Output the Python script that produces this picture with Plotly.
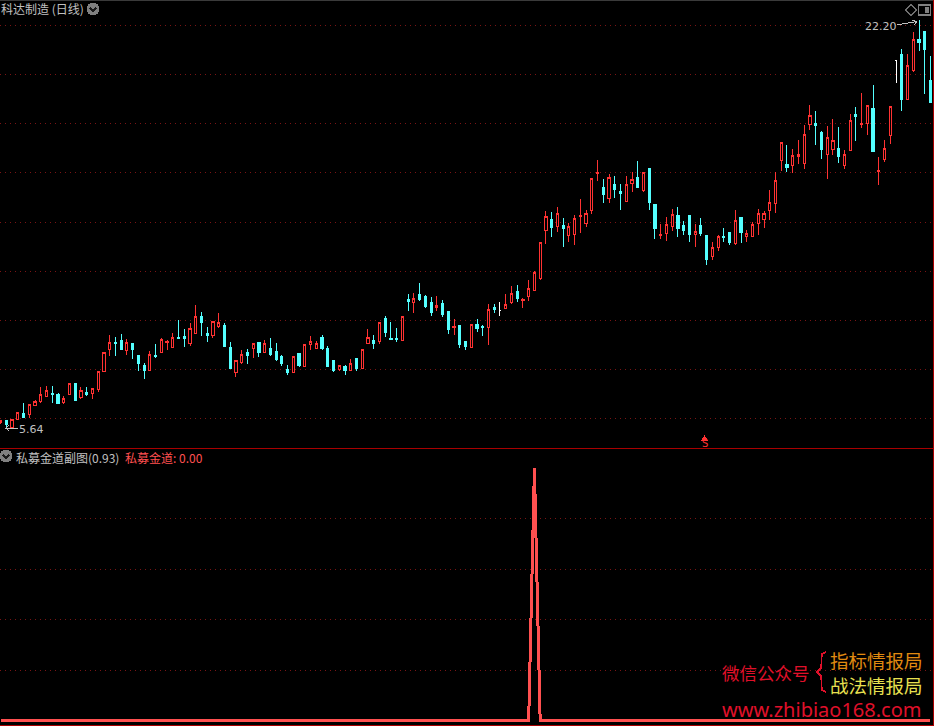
import numpy as np
import plotly.graph_objects as go

# Daily candles (price axis: grid every 2.00)
opens = [5.84,5.92,5.67,5.96,6.24,6.17,6.54,6.69,6.90,7.05,7.01,6.65,7.01,7.45,6.89,7.07,7.05,7.18,7.95,8.84,
         9.09,9.21,8.80,9.07,8.56,8.19,7.99,8.58,8.72,9.09,8.92,9.33,9.37,9.05,9.49,10.18,9.49,9.41,9.74,9.78,
         8.92,7.87,8.31,8.72,8.88,9.09,8.72,8.88,8.76,8.52,8.03,7.88,8.68,8.15,9.01,8.85,9.33,8.88,8.36,8.03,
         8.15,7.99,8.44,8.07,9.06,9.17,9.13,10.10,9.29,9.29,9.17,10.84,10.75,11.04,10.96,10.75,10.55,10.71,10.35,9.70,
         9.78,9.13,8.92,9.86,9.76,9.70,10.55,10.41,10.48,10.75,11.20,10.82,10.96,11.21,11.69,13.68,14.09,13.84,13.88,13.44,
         13.48,14.22,13.96,14.47,15.96,15.39,14.98,15.55,15.23,14.83,15.58,15.83,15.27,16.20,14.70,13.44,13.55,13.84,14.29,13.88,
         14.29,13.48,13.88,13.44,12.62,12.95,13.40,13.60,13.15,14.17,13.40,13.40,13.96,14.09,14.49,14.74,16.49,16.36,16.32,16.65,
         16.40,17.95,17.99,17.66,16.73,16.97,17.01,16.32,16.93,18.36,17.95,17.99,18.64,16.04,16.53,17.54,20.57,20.83,18.97,20.18,
         21.44,21.73,19.74]
highs = [5.96,5.92,6.00,6.27,6.65,6.61,6.76,7.30,7.33,7.34,7.04,6.93,7.45,7.45,7.29,7.29,7.26,7.95,8.71,9.41,
         9.33,9.45,9.24,9.07,8.60,8.27,8.76,9.05,9.28,9.20,9.49,10.02,9.66,9.90,10.63,10.35,9.74,9.97,10.31,9.90,
         9.13,8.36,8.80,8.84,9.07,9.13,9.21,9.28,9.09,8.60,8.19,8.55,8.68,9.01,9.37,9.17,9.41,8.96,8.36,8.18,
         8.19,8.44,8.44,8.84,9.66,9.41,9.94,10.18,9.94,9.70,10.17,11.08,11.12,11.53,11.04,10.96,11.00,10.84,10.39,10.06,
         9.78,9.17,9.85,10.06,9.82,10.67,10.67,10.75,11.08,11.40,11.44,10.92,11.65,12.01,13.18,14.45,14.41,14.62,14.17,13.96,
         14.29,14.94,14.49,15.78,16.53,15.75,15.96,15.88,15.55,15.88,16.04,16.49,16.03,16.20,14.70,13.92,14.21,14.53,14.62,14.05,
         14.29,13.92,14.17,13.44,13.19,13.48,13.76,13.60,14.49,14.21,13.68,14.01,14.53,14.45,15.31,16.04,17.25,17.14,16.97,17.34,
         17.95,18.76,18.52,17.70,17.91,18.19,17.87,16.93,18.40,18.68,19.25,18.75,19.57,16.65,17.34,18.71,20.59,21.04,20.83,21.73,
         22.20,21.73,20.75]
lows = [5.80,5.64,5.67,5.96,6.08,6.04,6.53,6.65,6.88,6.65,6.61,6.61,7.01,6.74,6.81,6.92,6.81,7.10,7.95,8.56,
        8.56,8.80,8.60,8.44,7.95,7.62,7.99,8.48,8.72,8.80,8.88,9.25,8.92,8.96,9.49,9.37,9.13,9.29,9.70,8.96,
        8.07,7.70,8.23,8.23,8.48,8.52,8.72,8.56,8.36,8.15,7.79,7.88,8.11,8.11,8.80,8.85,8.80,8.11,7.91,7.95,
        7.79,7.99,7.95,8.07,9.06,8.84,9.05,9.33,9.25,9.13,9.17,10.39,10.31,10.79,10.51,10.18,10.39,10.14,9.45,9.41,
        8.88,8.80,8.88,9.53,9.37,9.01,10.31,10.18,10.48,10.67,10.75,10.51,10.79,11.21,11.65,13.11,13.40,13.60,12.99,13.19,
        13.07,13.56,13.80,14.33,15.67,14.78,14.78,14.98,14.49,14.83,15.23,15.39,15.23,14.49,13.31,13.31,13.23,13.64,13.40,13.48,
        13.19,12.99,13.44,12.26,12.46,12.83,13.19,13.07,13.07,13.15,13.19,13.40,13.48,13.76,14.09,14.37,16.08,16.04,16.00,16.36,
        16.16,17.75,17.14,16.57,15.75,16.73,16.40,16.16,16.93,17.30,17.83,17.54,16.89,15.51,16.45,17.18,19.66,18.52,18.97,20.10,
        20.96,19.21,18.88]
closes = [5.92,5.76,5.99,6.27,6.08,6.57,6.72,7.00,7.16,7.01,6.61,6.85,7.45,6.77,7.16,7.01,7.22,7.95,8.71,9.12,
          9.05,8.83,9.12,8.84,8.25,7.99,8.64,8.54,9.24,9.14,9.32,9.27,9.29,9.68,10.17,9.94,9.41,9.97,9.94,8.96,
          8.07,8.36,8.64,8.56,9.07,8.72,9.05,8.64,8.40,8.27,7.87,8.55,8.19,9.01,9.13,9.07,8.88,8.15,7.99,8.18,
          7.99,8.27,8.07,8.84,9.33,9.05,9.94,9.53,9.25,9.25,10.17,10.79,10.88,10.84,10.59,10.31,10.63,10.23,9.62,9.74,
          9.01,8.96,9.85,9.66,9.72,10.47,10.43,10.41,10.66,11.08,10.88,10.86,11.32,11.97,13.18,14.25,13.80,14.36,13.76,13.83,
          14.16,14.29,14.36,15.78,16.00,15.14,15.82,15.31,15.18,15.54,15.74,15.39,16.03,14.78,13.76,13.48,13.92,14.32,13.76,13.68,
          13.48,13.64,13.52,12.50,12.99,13.40,13.36,13.19,14.05,13.56,13.52,13.92,14.37,14.37,14.78,15.71,17.25,16.24,16.69,16.77,
          17.57,18.34,17.91,16.97,17.46,17.30,16.65,16.77,18.14,18.31,17.99,18.75,16.89,16.08,17.00,18.71,20.57,18.97,20.35,21.43,
          21.32,21.00,18.88]
price_grid = [6, 8, 10, 12, 14, 16, 18, 20, 22]

# Lower indicator: single pulse at candle 93
pulse_index = 93
pulse_value = 0.93
indicator_grid = [0.186, 0.372, 0.558, 0.744]

max_label = "22.20"
min_label = "5.64"

W, H = 934, 726
RED, CYAN, WHITE = "#ff3232", "#54ffff", "#ffffff"
GRID = "#7a1414"
SEP = "#a80000"
GRAY = "#c0c0c0"
IND = "#ff5050"
CJK = "Noto Sans CJK SC"

o, h, l, c = map(np.array, (opens, highs, lows, closes))
x = np.arange(len(o))
flat = o == c
indicator = np.zeros(len(o))
indicator[pulse_index] = pulse_value

fig = go.Figure()
fig.add_trace(go.Candlestick(
    x=x[~flat], open=o[~flat], high=h[~flat], low=l[~flat], close=c[~flat],
    increasing=dict(line=dict(color=RED, width=1), fillcolor="#000000"),
    decreasing=dict(line=dict(color=CYAN, width=1), fillcolor=CYAN),
    whiskerwidth=0, xaxis="x", yaxis="y", showlegend=False, hoverinfo="skip"))
fig.add_trace(go.Candlestick(
    x=x[flat], open=o[flat], high=h[flat], low=l[flat], close=c[flat],
    increasing=dict(line=dict(color=WHITE, width=1), fillcolor=WHITE),
    decreasing=dict(line=dict(color=WHITE, width=1), fillcolor=WHITE),
    whiskerwidth=0, xaxis="x", yaxis="y", showlegend=False, hoverinfo="skip"))
fig.add_trace(go.Scatter(
    x=x, y=indicator, mode="lines", line=dict(color=IND, width=3),
    xaxis="x2", yaxis="y2", showlegend=False, hoverinfo="skip"))

xr = [-0.6 / 5.74, (W - 0.6) / 5.74]
ax = dict(range=xr, visible=False, fixedrange=True)

def dom(top, bottom):
    return [1 - bottom / H, 1 - top / H]

def P(px, py):
    return px / W, 1 - py / H

def text(px, py, s, color, size, anchor="left", font=CJK):
    xx, yy = P(px, py)
    fig.add_annotation(x=xx, y=yy, xref="paper", yref="paper", text=s, showarrow=False,
                       xanchor=anchor, yanchor="middle", xshift=-2 if anchor == "left" else 0,
                       font=dict(family=font, size=size, color=color))

def line(x0, y0, x1, y1, color, width=1):
    a = P(x0, y0); b = P(x1, y1)
    fig.add_shape(type="line", xref="paper", yref="paper", x0=a[0], y0=a[1], x1=b[0], y1=b[1],
                  line=dict(color=color, width=width))

def poly(points, color, fill=None, width=1):
    d = "M " + " L ".join("%f,%f" % P(*p) for p in points) + (" Z" if fill else "")
    fig.add_shape(type="path", xref="paper", yref="paper", path=d, fillcolor=fill,
                  line=dict(color=color, width=width))

fig.update_layout(
    width=W, height=H, margin=dict(l=0, r=0, t=0, b=0),
    paper_bgcolor="#000000", plot_bgcolor="#000000", boxgap=0.45, hovermode=False,
    xaxis=dict(**ax, rangeslider=dict(visible=False), anchor="y"),
    xaxis2=dict(**ax, anchor="y2"),
    yaxis=dict(domain=dom(0, 448), range=[4.82, 23.03], tickvals=price_grid, showgrid=True, gridcolor=GRID,
               griddash="1px,4px", gridwidth=1, zeroline=False, showticklabels=False, ticks="", showline=False, fixedrange=True),
    yaxis2=dict(domain=dom(449, 725), range=[-0.0166, 1.0], tickvals=indicator_grid, showgrid=True, gridcolor=GRID,
                griddash="1px,4px", gridwidth=1, zeroline=False, showticklabels=False, ticks="", showline=False, fixedrange=True),
)

# Frame lines
line(0, 0.5, W, 0.5, "#3a3a3a", 1)
line(0, 448.5, W, 448.5, SEP, 1)
line(0, 725.5, W, 725.5, SEP, 1)
line(933.5, 0, 933.5, H, SEP, 1)

# Titles
text(1, 9, "科达制造 (日线)", GRAY, 12)
text(16, 457, "私募金道副图(0.93)", GRAY, 12)
text(125, 457, "私募金道: 0.00", IND, 12)

# Chevron icons
for cx, cy in [(93, 9), (6, 456)]:
    a = P(cx - 6.5, cy - 6.5); b = P(cx + 6.5, cy + 6.5)
    fig.add_shape(type="circle", xref="paper", yref="paper", x0=a[0], y0=a[1], x1=b[0], y1=b[1],
                  fillcolor="#808080", line=dict(width=0))
    poly([(cx - 3, cy - 1), (cx, cy + 2), (cx + 3, cy - 1)], "#1a1a1a", width=1.5)

# Top-right toolbar icons
poly([(905.5, 10), (911, 4.5), (916.5, 10), (911, 15.5), (905.5, 10)], "#707070")
a = P(918.5, 5); b = P(930.5, 15)
fig.add_shape(type="rect", xref="paper", yref="paper", x0=a[0], y0=a[1], x1=b[0], y1=b[1],
              line=dict(color="#808080", width=1.5), fillcolor="#000000")
a = P(925, 7); b = P(929, 13)
fig.add_shape(type="rect", xref="paper", yref="paper", x0=a[0], y0=a[1], x1=b[0], y1=b[1],
              line=dict(width=0), fillcolor="#808080")

# High / low labels
text(865, 27, max_label, GRAY, 11, font="DejaVu Sans")
poly([(897, 25), (905, 23.5), (917, 21.5), (912, 20.5)], GRAY)
line(917, 21.5, 914, 25, GRAY)
text(19, 429, min_label, GRAY, 11, font="DejaVu Sans")
poly([(18, 428), (6, 428), (9, 425)], GRAY)
line(6, 428, 9, 431, GRAY)

# Signal glyph under the rally
text(705, 443.5, "S", RED, 10, "center", "DejaVu Sans")
poly([(702, 440), (704.5, 436), (707, 440)], RED, fill=RED)

# Watermark
text(722, 672, "微信公众号", "#e0102a", 17.5)
poly([(826, 652), (822, 654), (821, 668), (817, 672), (821, 676), (822, 690), (826, 692)], "#e0102a", width=1.5)
text(830, 660, "指标情报局", "#e08a10", 18.5)
text(830, 685, "战法情报局", "#e8e050", 18.5)
text(722, 709, "www.zhibiao168.com", "#e0102a", 20, font="Noto Sans")

fig.write_html(
    "out.html",
    config={"displayModeBar": False},
    post_script=(
        "document.body.style.margin='0';document.body.style.background='#000';"
        "document.body.style.overflow='hidden';"
        "document.querySelectorAll('.cartesianlayer path, .shapelayer path').forEach(function(p){p.style.shapeRendering='crispEdges';});"
    ),
)
